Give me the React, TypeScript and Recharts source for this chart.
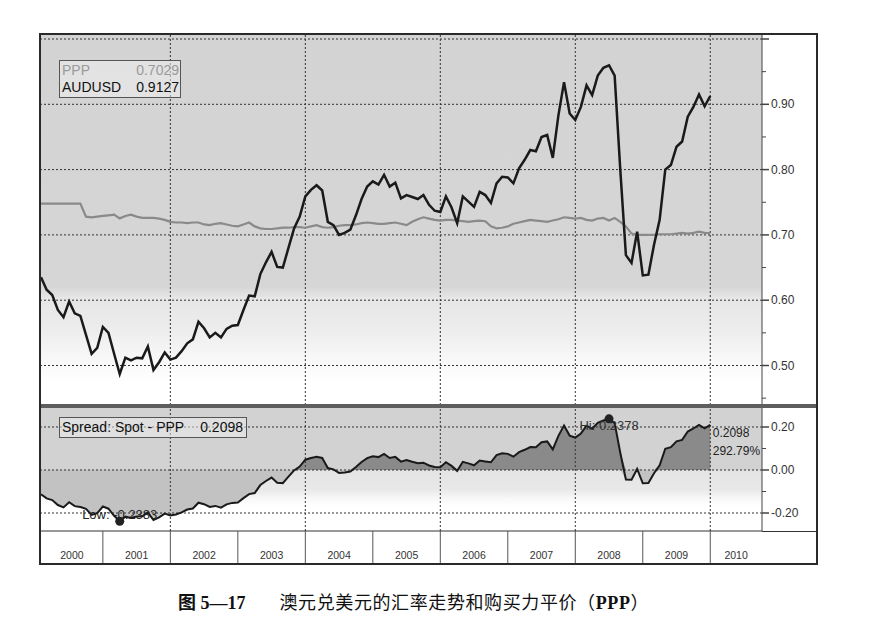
import React from 'react'
import { ComposedChart, Line, Area, XAxis, YAxis, ReferenceLine, ReferenceDot } from 'recharts'

// monthly values, month 1 = Feb 2000 ... month 120 = Jan 2010
const AUDUSD = [
  0.635, 0.616, 0.608, 0.585, 0.574, 0.598, 0.58, 0.576, 0.547, 0.518, 0.527,
  0.559, 0.55, 0.518, 0.487, 0.512, 0.508, 0.512, 0.511, 0.529, 0.493, 0.505, 0.52,
  0.509, 0.512, 0.522, 0.534, 0.54, 0.567, 0.557, 0.543, 0.55, 0.543, 0.556, 0.561,
  0.562, 0.585, 0.607, 0.606, 0.64, 0.658, 0.674, 0.651, 0.65, 0.68, 0.71, 0.728,
  0.759, 0.769, 0.776, 0.768, 0.72, 0.715, 0.7, 0.703, 0.708, 0.73, 0.755, 0.774,
  0.782, 0.777, 0.792, 0.774, 0.78, 0.756, 0.761, 0.758, 0.755, 0.761, 0.746, 0.737,
  0.735, 0.759, 0.742, 0.718, 0.759, 0.751, 0.743, 0.766, 0.761, 0.749, 0.779, 0.789,
  0.788, 0.779, 0.802, 0.815, 0.83, 0.828, 0.85, 0.853, 0.818, 0.883, 0.934, 0.886,
  0.876, 0.896, 0.929, 0.914, 0.944, 0.956, 0.9598, 0.944, 0.8, 0.669, 0.657, 0.705,
  0.638, 0.639, 0.685, 0.723, 0.8, 0.807, 0.835, 0.843, 0.881, 0.896, 0.915, 0.897,
  0.9127,
]

const PPP = [
  0.748, 0.748, 0.748, 0.748, 0.748, 0.748, 0.748, 0.748, 0.728, 0.727, 0.728,
  0.729, 0.73, 0.731, 0.7253, 0.729, 0.731, 0.728, 0.726, 0.726, 0.726, 0.725, 0.723,
  0.72, 0.719, 0.719, 0.718, 0.719, 0.719, 0.716, 0.715, 0.717, 0.718, 0.716, 0.714,
  0.713, 0.716, 0.719, 0.713, 0.71, 0.709, 0.709, 0.71, 0.711, 0.711, 0.712, 0.712,
  0.711, 0.713, 0.715, 0.712, 0.711, 0.712, 0.714, 0.715, 0.715, 0.716, 0.718, 0.719,
  0.718, 0.717, 0.717, 0.718, 0.719, 0.717, 0.715, 0.72, 0.724, 0.727, 0.725, 0.723,
  0.722, 0.723, 0.723, 0.722, 0.721, 0.72, 0.721, 0.722, 0.721, 0.713, 0.71, 0.711,
  0.713, 0.717, 0.719, 0.721, 0.723, 0.722, 0.721, 0.72, 0.722, 0.724, 0.727, 0.726,
  0.725, 0.726, 0.723, 0.722, 0.725, 0.726, 0.722, 0.726, 0.72, 0.713, 0.702, 0.7,
  0.7, 0.7, 0.7, 0.701, 0.701, 0.701, 0.702, 0.703, 0.702, 0.703, 0.705, 0.703,
  0.7029,
]

const YEARS = ['2000', '2001', '2002', '2003', '2004', '2005', '2006', '2007', '2008', '2009', '2010']
const YEAR_STARTS = [1, 12, 24, 36, 48, 60, 72, 84, 96, 108, 120]
const GRID_MONTHS = [24, 48, 72, 96, 120]

const PRICE_TICKS = [0.45, 0.5, 0.55, 0.6, 0.65, 0.7, 0.75, 0.8, 0.85, 0.9, 0.95, 1.0]
const PRICE_LABELS = [0.5, 0.6, 0.7, 0.8, 0.9]
const PRICE_GRID = [0.5, 0.6, 0.7, 0.8, 0.9, 1.0]

const SPREAD_TICKS = [-0.2, -0.1, 0, 0.1, 0.2]
const SPREAD_LABELS = [-0.2, 0, 0.2]

const LEGEND_PPP = '0.7029'
const LEGEND_AUD = '0.9127'
const LEGEND_SPREAD = '0.2098'
const HI_TEXT = 'Hi: 0.2378'
const LOW_TEXT = 'Low: -0.2383'
const LAST_PCT = '292.79%'

const X_DOMAIN: [number, number] = [1, 129.2]
const PLOT_W = 721
const PX_PER_MONTH = PLOT_W / (X_DOMAIN[1] - X_DOMAIN[0])

const FONT = '"Liberation Sans", Arial, sans-serif'

const data = AUDUSD.map((v, i) => {
  const s = +(v - PPP[i]).toFixed(4)
  return { m: i + 1, aud: v, ppp: PPP[i], spread: s, pos: Math.max(s, 0), neg: Math.min(s, 0) }
})

let hi = data[0]
let low = data[0]
data.forEach((d) => {
  if (d.spread > hi.spread) hi = d
  if (d.spread < low.spread) low = d
})
const last = data[data.length - 1]

function makeTick(labels: number[], minorLen: number) {
  return (props: any) => {
    const { x, y, payload } = props
    const v = payload.value
    const labelled = labels.includes(v)
    const major = labelled || v === 1.0
    return (
      <g>
        <line x1={x} x2={x + (major ? 7 : minorLen)} y1={y} y2={y} stroke="#444" strokeWidth={major ? 1.5 : 1} />
        {labelled && (
          <text x={x + 9} y={y + 4} fontSize={12} fill="#333" fontFamily={FONT}>
            {v.toFixed(2)}
          </text>
        )}
      </g>
    )
  }
}

function YearTick(props: any) {
  const { x, y, payload } = props
  const i = YEAR_STARTS.indexOf(payload.value)
  const start = YEAR_STARTS[i]
  const end = i + 1 < YEAR_STARTS.length ? YEAR_STARTS[i + 1] : X_DOMAIN[1]
  const cx = x + ((end - start) / 2) * PX_PER_MONTH
  return (
    <g>
      {i > 0 && <line x1={x} x2={x} y1={y} y2={y + 32} stroke="#555" />}
      <text x={cx} y={y + 28} textAnchor="middle" fontSize={10.5} fill="#333" fontFamily={FONT}>
        {YEARS[i]}
      </text>
    </g>
  )
}

const gridStyle = { stroke: '#333', strokeDasharray: '2 2', strokeWidth: 1 }

export default function App() {
  return (
    <div style={{ position: 'absolute', left: 0, top: 0, width: 878, height: 643, background: '#fff', fontFamily: FONT }}>
      {/* panel backgrounds */}
      <div
        style={{
          position: 'absolute', left: 41, top: 35, width: 721, height: 370,
          background: 'linear-gradient(to bottom, #d3d3d3 0%, #d6d6d6 68%, #e6e6e6 71%, #ececec 79%, #f7f7f7 87%, #ffffff 94%)',
        }}
      />
      <div
        style={{
          position: 'absolute', left: 41, top: 408, width: 721, height: 123,
          background: 'linear-gradient(to bottom, #d2d2d2 0%, #d2d2d2 50%, #e4e4e4 51%, #e8e8e8 66%, #f8f8f8 74%, #ffffff 80%)',
        }}
      />

      <div style={{ position: 'absolute', left: 39, top: 33 }}>
        <ComposedChart width={779} height={373} data={data} margin={{ top: 2, right: 0, bottom: 1, left: 2 }}>
          <XAxis dataKey="m" type="number" domain={X_DOMAIN} allowDataOverflow hide />
          <YAxis
            orientation="right"
            width={56}
            type="number"
            domain={[0.43951, 1.00613]}
            allowDataOverflow
            ticks={PRICE_TICKS}
            interval={0}
            tickSize={0}
            tickMargin={0}
            tickLine={false}
            axisLine={{ stroke: '#444' }}
            tick={makeTick(PRICE_LABELS, 4)}
          />
          {PRICE_GRID.map((v) => (
            <ReferenceLine key={'py' + v} y={v} {...gridStyle} />
          ))}
          {GRID_MONTHS.map((m) => (
            <ReferenceLine key={'px' + m} x={m} {...gridStyle} />
          ))}
          <Line dataKey="ppp" stroke="#8a8a8a" strokeWidth={2.2} dot={false} isAnimationActive={false} />
          <Line dataKey="aud" stroke="#1a1a1a" strokeWidth={2.5} dot={false} isAnimationActive={false} />
        </ComposedChart>
      </div>

      <div style={{ position: 'absolute', left: 39, top: 408 }}>
        <ComposedChart width={779} height={157} data={data} margin={{ top: 0, right: 0, bottom: 1, left: 2 }}>
          <XAxis
            dataKey="m"
            type="number"
            domain={X_DOMAIN}
            allowDataOverflow
            ticks={YEAR_STARTS}
            interval={0}
            tickSize={0}
            tickMargin={0}
            tickLine={false}
            height={33}
            axisLine={{ stroke: '#333' }}
            tick={<YearTick />}
          />
          <YAxis
            orientation="right"
            width={56}
            type="number"
            domain={[-0.28372, 0.28837]}
            allowDataOverflow
            ticks={SPREAD_TICKS}
            interval={0}
            tickSize={0}
            tickMargin={0}
            tickLine={false}
            axisLine={{ stroke: '#444' }}
            tick={makeTick(SPREAD_LABELS, 4)}
          />
          <Area dataKey="neg" stroke="none" fill="#c2c2c2" fillOpacity={1} isAnimationActive={false} />
          <Area dataKey="pos" stroke="none" fill="#8a8a8a" fillOpacity={1} isAnimationActive={false} />
          {SPREAD_LABELS.map((v) => (
            <ReferenceLine key={'sy' + v} y={v} {...gridStyle} />
          ))}
          {GRID_MONTHS.map((m) => (
            <ReferenceLine key={'sx' + m} x={m} {...gridStyle} />
          ))}
          <Line dataKey="spread" stroke="#1a1a1a" strokeWidth={2} dot={false} isAnimationActive={false} />
          <ReferenceDot
            x={low.m}
            y={low.spread}
            r={4.5}
            shape={(p: any) => (
              <g>
                <text x={p.cx} y={p.cy - 2} textAnchor="middle" fontSize={13} fill="#222" fontFamily={FONT}>
                  {LOW_TEXT}
                </text>
                <circle cx={p.cx} cy={p.cy} r={4.5} fill="#222" />
              </g>
            )}
          />
          <ReferenceDot
            x={hi.m}
            y={hi.spread}
            r={4.5}
            shape={(p: any) => (
              <g>
                <text x={p.cx} y={p.cy + 11.5} textAnchor="middle" fontSize={13} fill="#333" fontFamily={FONT}>
                  {HI_TEXT}
                </text>
                <circle cx={p.cx} cy={p.cy} r={4.5} fill="#222" />
              </g>
            )}
          />
          <ReferenceDot
            x={last.m}
            y={last.spread}
            r={0}
            shape={(p: any) => (
              <g>
                <text x={p.cx + 2.5} y={p.cy + 12.5} fontSize={12} fill="#222" fontFamily={FONT}>
                  {last.spread.toFixed(4)}
                </text>
                <text x={p.cx + 2.5} y={p.cy + 30} fontSize={12} fill="#222" fontFamily={FONT}>
                  {LAST_PCT}
                </text>
              </g>
            )}
          />
        </ComposedChart>
      </div>

      {/* panel separator, axis band top line and frame */}
      <div style={{ position: 'absolute', left: 41, top: 404, width: 775, height: 4, background: '#5e5e5e' }} />
      <div style={{ position: 'absolute', left: 762, top: 531, width: 54, height: 1, background: '#333' }} />
      <div
        style={{
          position: 'absolute', left: 39, top: 33, width: 779, height: 532,
          border: '2px solid #2a2a2a', boxSizing: 'border-box', pointerEvents: 'none',
        }}
      />

      {/* legend boxes */}
      <div
        style={{
          position: 'absolute', left: 59, top: 60, width: 122, height: 38, boxSizing: 'border-box',
          border: '1px solid #555', background: 'rgba(238,238,238,0.55)', fontSize: 14, lineHeight: '17px',
          padding: '1px 1px 0 2px',
        }}
      >
        <div style={{ display: 'flex', justifyContent: 'space-between', color: '#9a9a9a' }}>
          <span>PPP</span>
          <span>{LEGEND_PPP}</span>
        </div>
        <div style={{ display: 'flex', justifyContent: 'space-between', color: '#111' }}>
          <span>AUDUSD</span>
          <span>{LEGEND_AUD}</span>
        </div>
      </div>
      <div
        style={{
          position: 'absolute', left: 59, top: 417, width: 188, height: 21, boxSizing: 'border-box',
          border: '1px solid #555', background: 'rgba(238,238,238,0.5)', fontSize: 14, lineHeight: '19px',
          padding: '0 3px 0 2px', display: 'flex', justifyContent: 'space-between', color: '#111',
        }}
      >
        <span>Spread: Spot - PPP</span>
        <span>{LEGEND_SPREAD}</span>
      </div>

      {/* caption */}
      <div
        style={{
          position: 'absolute', left: 178, top: 591, fontSize: 18, lineHeight: '24px', whiteSpace: 'nowrap',
          color: '#111', fontFamily: '"Liberation Serif", "Noto Sans CJK SC", serif',
        }}
      >
        <span style={{ fontWeight: 700 }}>图 5—17</span>
        <span style={{ marginLeft: 34, letterSpacing: 0.6 }}>澳元兑美元的汇率走势和购买力平价（<b>PPP</b>）</span>
      </div>
    </div>
  )
}
